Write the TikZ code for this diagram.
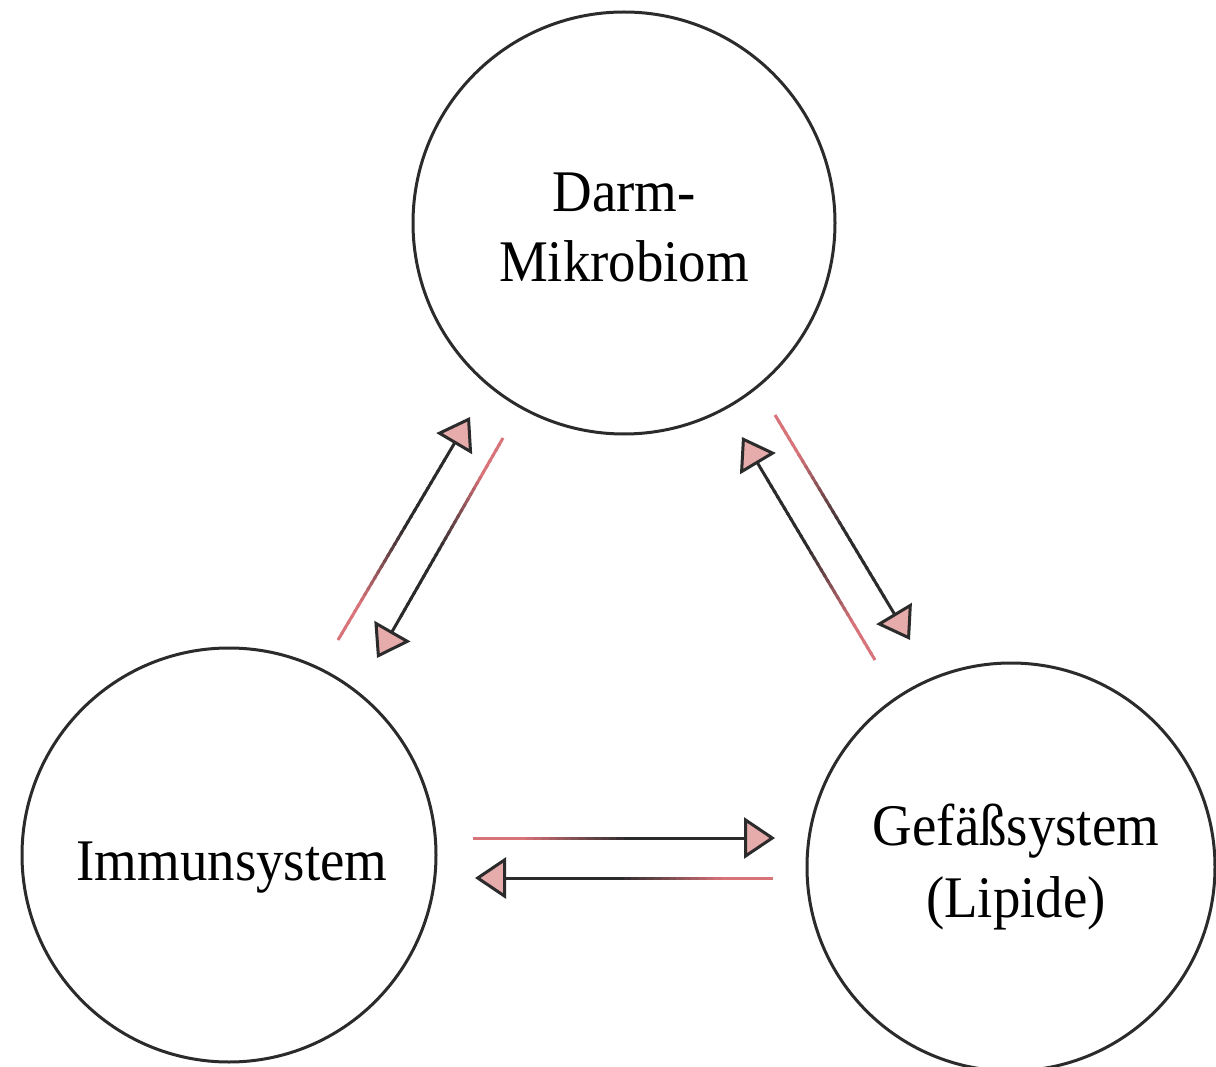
\documentclass[tikz,border=0pt]{standalone}
\usepackage{fontspec}
\setmainfont{Liberation Serif}[FakeStretch=0.93]
\usetikzlibrary{arrows.meta,calc}
\definecolor{ink}{HTML}{2B2B2B}
\definecolor{tipfill}{HTML}{E6ABAB}
\definecolor{redline}{HTML}{D9737A}
\newcommand\gradarrow[2]{%
  \foreach \k in {0,...,31}{%
    \pgfmathtruncatemacro\mix{max(0,min(100,(\k/40-0.15)/0.35*100))}%
    \draw[line width=3pt, draw=ink!\mix!redline] ($(#1)!\k/40!(#2)$) -- ($(#1)!\k/40+0.035!(#2)$);
  }%
  \draw[flow,-pinktip] ($(#1)!0.8!(#2)$) -- (#2);
}
\begin{document}
\begin{tikzpicture}[x=1pt,y=-1pt,
  bubble/.style={circle, draw=ink, line width=3pt, inner sep=0pt},
  lbl/.style={anchor=base, inner sep=0pt, font=\fontsize{59}{70}\selectfont},
  pinktip/.tip={Triangle[length=31pt,width=41pt,fill=tipfill]},
  flow/.style={draw=ink, line width=3pt}]
\useasboundingbox (0,0) rectangle (1216,1067);
\clip (0,0) rectangle (1216,1067);
\fill[white] (0,0) rectangle (1216,1067);
% circles
\node[bubble, minimum size=422pt] (darm) at (624,223) {};
\node[bubble, minimum size=414pt] (immun) at (229,855) {};
\node[bubble, minimum size=408pt] (gefaess) at (1011,867) {};
% texts
\node[lbl] (darm1) at (624,212) {Darm-};
\node[lbl] (darm2) at (624,282) {Mikrobiom};
\node[lbl] (immun1) at (232,880) {Immunsystem};
\node[lbl] (gef1) at (1016,845) {Gefäßsystem};
\node[lbl] (gef2) at (1016,917) {(Lipide)};
% free ends of the connectors
\coordinate (aT) at (338,640); \coordinate (aH) at (470,417);
\coordinate (bT) at (503,438); \coordinate (bH) at (377,658);
\coordinate (cT) at (875,660); \coordinate (cH) at (742,437);
\coordinate (dT) at (775,415); \coordinate (dH) at (910,640);
\coordinate (eT) at (473,838); \coordinate (eH) at (775,838);
\coordinate (fT) at (773,878); \coordinate (fH) at (475,878);
% connectors
\gradarrow{aT}{aH}
\gradarrow{bT}{bH}
\gradarrow{cT}{cH}
\gradarrow{dT}{dH}
\gradarrow{eT}{eH}
\gradarrow{fT}{fH}
\end{tikzpicture}
\end{document}
